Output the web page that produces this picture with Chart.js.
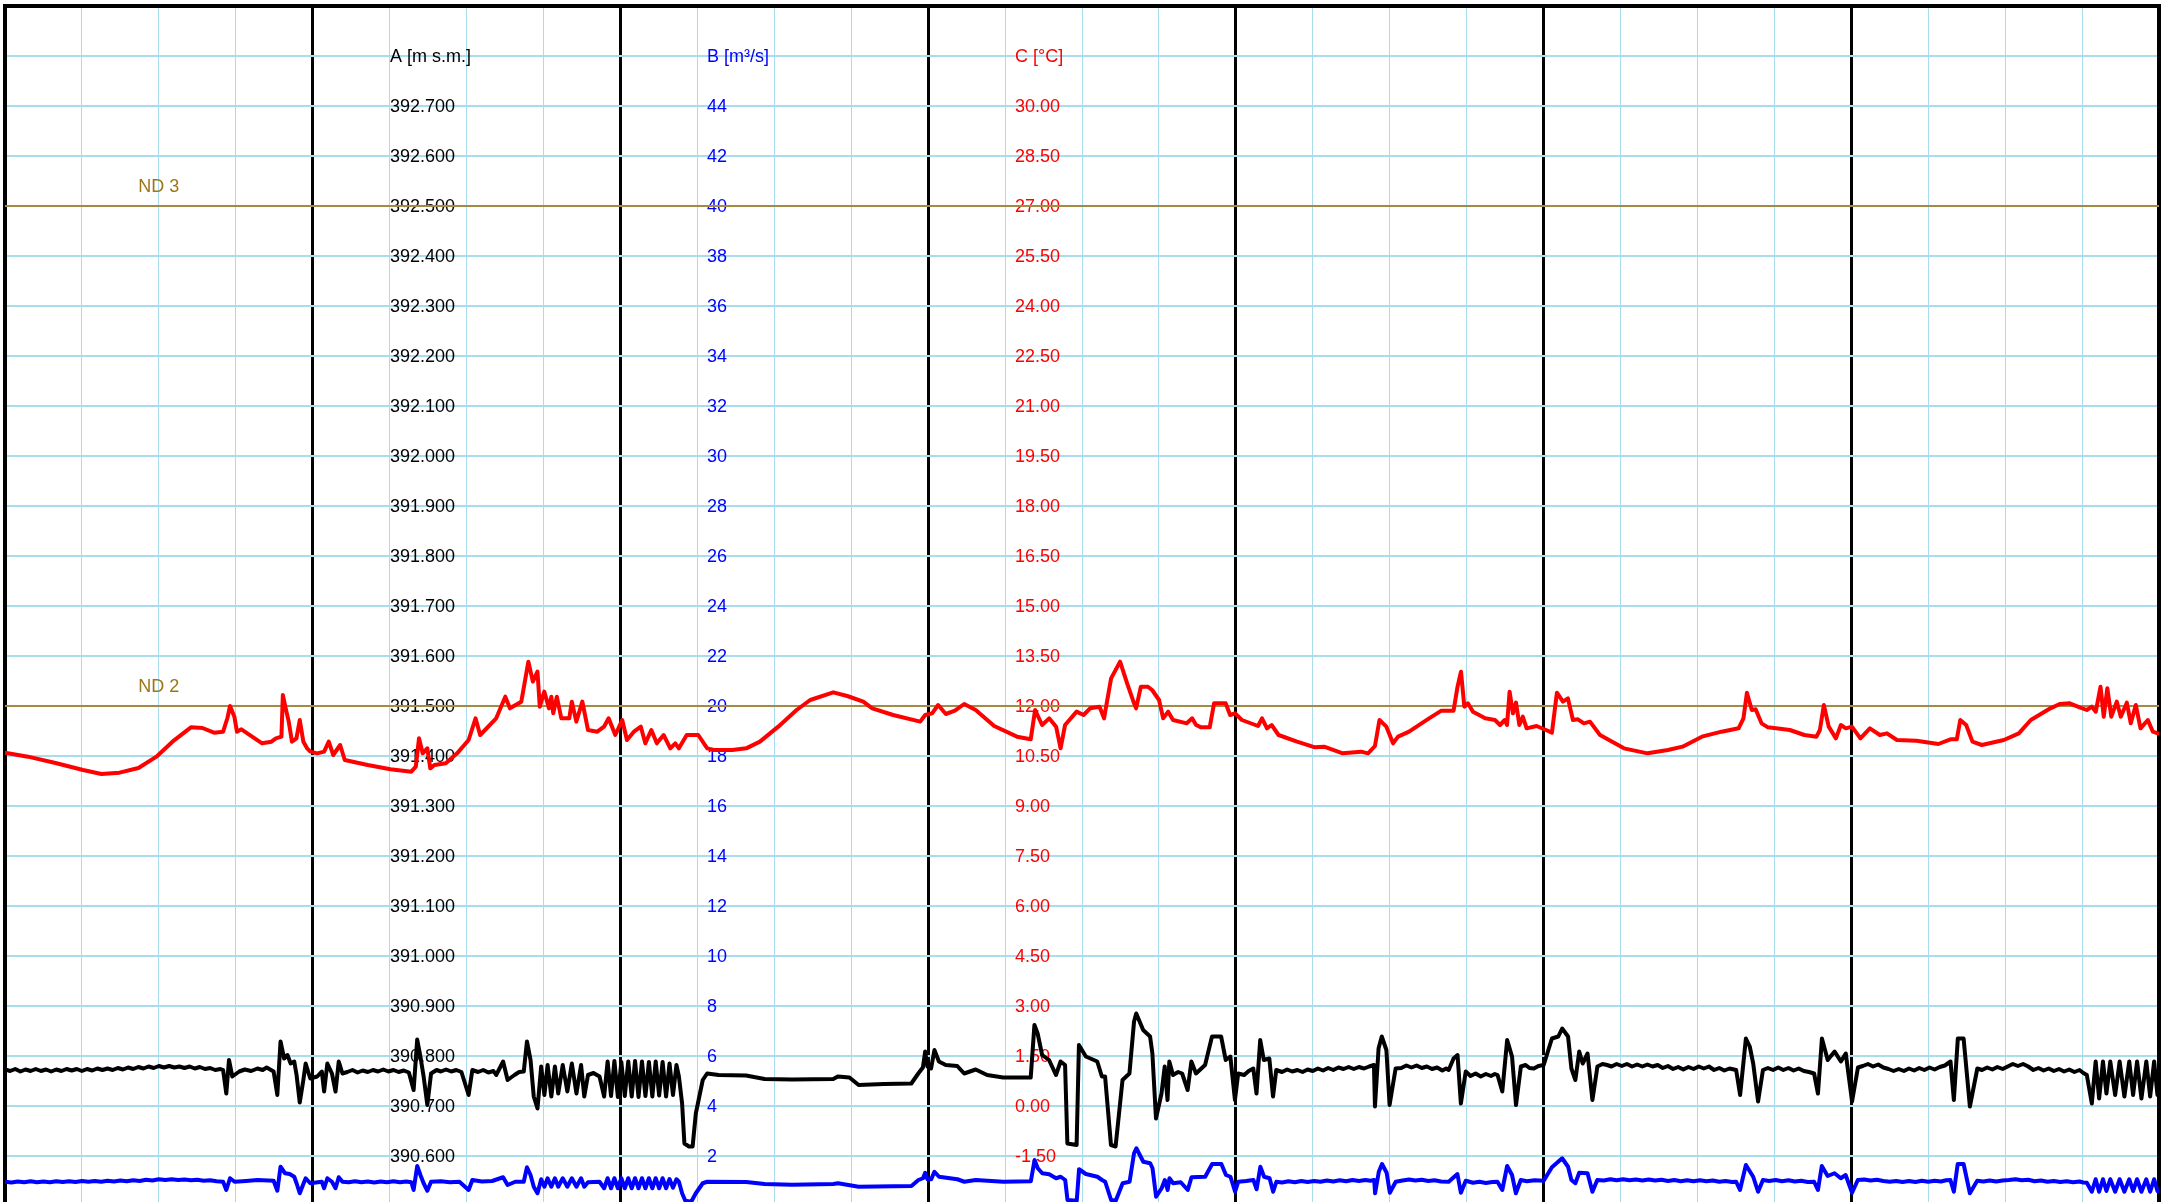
<!DOCTYPE html>
<html>
<head>
<meta charset="utf-8">
<title>A / B / C</title>
<script src="https://cdn.jsdelivr.net/npm/chart.js@4.4.1/dist/chart.umd.min.js"></script>
<style>
  html, body { margin: 0; padding: 0; background: #ffffff; overflow: hidden; }
  canvas { display: block; }
</style>
</head>
<body>
<canvas id="chart" width="2164" height="1212"></canvas>
<script>
// ---- Axis titles and tick labels (top row to bottom row) ----
const axisTitles = ['A [m s.m.]', 'B [m\u00B3/s]', 'C [\u00B0C]'];
const levelTicks = ['392.700','392.600','392.500','392.400','392.300','392.200','392.100','392.000',
  '391.900','391.800','391.700','391.600','391.500','391.400','391.300','391.200','391.100','391.000',
  '390.900','390.800','390.700','390.600'];
const flowTicks = ['44','42','40','38','36','34','32','30','28','26','24','22','20','18','16','14',
  '12','10','8','6','4','2'];
const tempTicks = ['30.00','28.50','27.00','25.50','24.00','22.50','21.00','19.50','18.00','16.50',
  '15.00','13.50','12.00','10.50','9.00','7.50','6.00','4.50','3.00','1.50','0.00','-1.50'];

// ---- Axis ranges [min, max, step] ----
const hourRange = [0, 168, 6];
const levelRange = [390.5, 392.9, 0.1];
const flowRange = [0, 48, 2];
const tempRange = [-3, 33, 1.5];

// ---- Reference levels ----
const ndNames = ['ND 3', 'ND 2'];
const ndLevels = [392.5, 391.5];
const ndLabelHour = 12;

// ---- C: temperature [°C] ----
const tempHours = [0,1.79,3.94,6.09,7.52,8.93,10.41,11.81,13.06,14.5,15.4,16.3,17.01,17.35,17.55,17.89,18.09,18.44,
  20.05,20.78,21.13,21.56,21.67,21.92,22.13,22.38,22.73,22.99,23.27,23.56,23.82,24.35,24.89,25.25,25.6,26.14,26.5,
  28.29,30.06,31.69,32.04,32.29,32.58,32.94,33.17,33.49,34.38,35.26,36.16,36.7,37.06,38.31,39.02,39.38,40.27,40.82,
  41.17,41.53,41.71,42.06,42.43,42.61,42.76,43.04,43.39,44.01,44.21,44.56,45.03,45.47,46.2,46.72,47.08,47.6,48.14,
  48.51,49.05,49.59,49.94,50.41,50.84,51.37,51.89,52.28,52.56,53.17,54.07,54.77,55.3,56.72,57.81,58.88,60.31,61.74,
  62.8,64.6,65.69,66.94,67.64,69.27,71.38,71.77,72.31,72.78,73.38,74.09,74.81,75.71,77.15,78.93,80.0,80.34,80.89,
  81.44,81.98,82.33,82.68,83.58,84.12,84.63,85.37,85.72,86.27,86.97,87.52,88.06,88.22,88.59,89.12,89.47,90.01,90.33,
  90.72,91.1,92.17,92.59,92.9,93.29,93.96,94.3,95.21,95.55,95.94,96.47,97.73,98.04,98.43,98.79,99.33,100.77,102.17,
  102.88,104.34,105.76,106.31,106.85,107.2,107.74,108.26,108.65,109.51,110.36,111.07,112.03,112.98,113.29,113.56,
  113.82,114.1,114.49,115.45,116.21,116.6,116.97,117.15,117.35,117.61,117.85,118.11,118.38,118.68,119.45,120.19,
  120.65,121.04,121.51,121.9,122.29,122.68,123.15,123.62,124.4,126.27,128.11,129.7,130.84,132.35,133.88,135.21,
  135.59,135.86,136.24,136.54,137.0,137.5,139.21,140.34,141.29,141.55,141.86,142.24,142.8,143.19,143.58,144.05,
  144.71,145.45,146.23,146.78,147.56,149.08,150.79,151.74,152.23,152.5,152.96,153.45,154.18,155.9,157.07,158.0,
  159.53,160.26,161.04,161.81,162.37,162.76,163.07,163.44,163.69,163.97,164.28,164.71,165.02,165.49,165.8,166.19,
  166.56,167.13,167.52,167.91];
const tempValues = [10.6,10.48,10.29,10.08,9.96,10.0,10.14,10.48,10.93,11.36,11.34,11.2,11.23,11.64,12.0,11.68,11.23,11.3,
  10.88,10.93,11.03,11.08,12.33,11.88,11.53,10.93,11.03,11.58,10.93,10.73,10.63,10.58,10.63,10.93,10.53,10.83,10.38,
  10.23,10.1,10.03,10.18,11.03,10.58,10.73,10.13,10.23,10.28,10.58,10.98,11.63,11.13,11.63,12.28,11.93,12.13,13.33,
  12.73,13.03,11.98,12.43,11.93,12.28,11.78,12.28,11.63,11.63,12.13,11.53,12.13,11.28,11.23,11.38,11.63,11.13,11.58,
  10.98,11.23,11.38,10.88,11.28,10.88,11.13,10.73,10.88,10.73,11.13,11.13,10.73,10.68,10.68,10.73,10.93,11.38,11.88,
  12.18,12.41,12.3,12.13,11.93,11.73,11.53,11.73,11.78,12.03,11.76,11.86,12.06,11.88,11.4,11.08,11.0,11.88,11.43,
  11.63,11.38,10.73,11.43,11.83,11.73,11.93,11.98,11.63,12.83,13.33,12.68,12.08,11.93,12.58,12.58,12.48,12.18,11.63,
  11.83,11.58,11.48,11.63,11.43,11.36,11.36,12.08,12.08,11.73,11.78,11.58,11.4,11.63,11.33,11.43,11.13,10.93,10.76,
  10.78,10.58,10.63,10.58,10.8,11.58,11.38,10.88,11.08,11.23,11.45,11.63,11.86,11.86,12.58,13.03,
  11.98,12.08,11.83,11.63,11.58,11.43,11.58,11.43,12.43,11.78,12.1,11.43,11.68,11.33,11.4,11.28,
  11.2,12.4,12.13,12.23,11.58,11.6,11.48,11.53,11.13,10.73,10.58,10.68,10.78,11.08,11.23,11.33,
  11.63,12.4,11.88,11.9,11.48,11.36,11.28,11.13,11.08,11.28,12.03,11.38,11.03,11.43,11.33,11.38,
  11.03,11.33,11.13,11.18,10.98,10.96,10.86,11.0,11.0,11.58,11.43,10.93,10.83,10.98,11.18,11.58,
  11.93,12.06,12.08,11.96,11.88,11.98,11.83,12.58,11.68,12.53,11.68,12.13,11.68,12.1,11.48,12.03,
  11.33,11.58,11.23,11.18];

// ---- A: water level [m s.m.], pairs of [hour, level] ----
const levelSeries = [
  [0,390.773],[0.4,390.770],[0.8,390.774],[1.2,390.769],[1.6,390.773],[2.0,390.770],[2.4,390.774],[2.8,390.770],
  [3.2,390.773],[3.6,390.769],[4.0,390.773],[4.4,390.770],[4.8,390.774],[5.2,390.771],[5.6,390.774],[6.0,390.770],
  [6.4,390.774],[6.8,390.771],[7.2,390.775],[7.6,390.772],[8.0,390.775],[8.4,390.772],[8.8,390.776],[9.2,390.773],
  [9.6,390.777],[10.0,390.774],[10.4,390.778],[10.8,390.775],[11.2,390.779],[11.6,390.776],[12.0,390.780],[12.4,390.777],
  [12.8,390.780],[13.2,390.777],[13.6,390.779],[14.0,390.776],[14.4,390.779],[14.8,390.775],[15.2,390.778],[15.6,390.774],
  [16.0,390.776],[16.4,390.772],[16.8,390.774],[17.01,390.772],
  [17.26,390.725],[17.47,390.792],[17.73,390.759],[18.27,390.769],[18.7,390.773],[19.2,390.770],[19.69,390.775],
  [20.1,390.772],[20.41,390.777],[20.95,390.769],[21.24,390.722],[21.49,390.829],[21.77,390.795],[22.03,390.802],
  [22.28,390.785],[22.56,390.789],[22.74,390.762],[22.99,390.707],[23.27,390.752],[23.45,390.785],[23.81,390.755],
  [24.35,390.759],[24.71,390.769],[24.89,390.729],[25.14,390.785],[25.5,390.765],[25.78,390.729],[26.03,390.789],
  [26.32,390.765],[26.7,390.768],[27.1,390.772],[27.5,390.767],[27.9,390.771],[28.3,390.768],[28.7,390.772],
  [29.1,390.769],[29.5,390.773],[29.9,390.769],[30.3,390.772],[30.7,390.768],[31.1,390.771],[31.5,390.767],
  [31.87,390.732],[32.15,390.833],[32.4,390.799],[32.65,390.759],[32.94,390.702],[33.23,390.765],[33.66,390.772],
  [34.0,390.769],[34.4,390.773],[34.8,390.769],[35.2,390.772],[35.6,390.768],[36.16,390.722],[36.45,390.772],
  [36.9,390.768],[37.3,390.772],[37.7,390.767],[38.1,390.770],[38.31,390.762],[38.85,390.789],[39.2,390.752],
  [39.74,390.762],[40.1,390.768],[40.46,390.769],[40.71,390.829],[40.99,390.792],[41.24,390.719],[41.53,390.695],
  [41.82,390.779],[42.07,390.722],[42.32,390.782],[42.61,390.719],[42.89,390.779],[43.15,390.725],[43.5,390.782],
  [43.86,390.729],[44.21,390.785],[44.57,390.725],[44.93,390.782],[45.18,390.719],[45.47,390.762],[45.9,390.766],
  [46.37,390.759],[46.73,390.719],[47.0,390.789],[47.27,390.720],[47.53,390.790],[47.8,390.718],[48.07,390.788],
  [48.34,390.720],[48.61,390.789],[48.88,390.719],[49.14,390.790],[49.41,390.718],[49.68,390.789],[49.95,390.720],
  [50.22,390.788],[50.49,390.719],[50.75,390.789],[51.02,390.721],[51.29,390.788],[51.56,390.719],[51.83,390.785],
  [52.1,390.722],[52.37,390.782],[52.56,390.759],[52.81,390.705],[52.99,390.625],[53.35,390.619],[53.63,390.619],
  [53.88,390.685],[54.42,390.752],[54.76,390.765],[55.66,390.762],[57.8,390.761],[59.24,390.754],[61.38,390.753],
  [64.6,390.754],[64.96,390.759],[65.86,390.757],[66.58,390.742],[68.55,390.744],[70.69,390.745],[71.23,390.765],
  [71.59,390.777],[71.77,390.809],[71.94,390.779],[72.23,390.775],[72.49,390.812],[72.84,390.789],[73.37,390.782],
  [74.27,390.780],[74.81,390.765],[75.71,390.773],[76.6,390.762],[77.85,390.757],[80.0,390.757],[80.29,390.862],
  [80.54,390.845],[80.89,390.802],[81.43,390.792],[81.97,390.762],[82.33,390.789],[82.68,390.782],[82.86,390.625],
  [83.58,390.622],[83.76,390.822],[84.3,390.799],[85.19,390.789],[85.55,390.759],[85.8,390.759],[86.26,390.622],
  [86.62,390.619],[87.16,390.752],[87.7,390.765],[88.06,390.869],[88.23,390.885],[88.77,390.852],[89.31,390.839],
  [89.49,390.805],[89.77,390.675],[90.2,390.725],[90.45,390.779],[90.67,390.712],[90.81,390.789],[91.1,390.762],
  [91.5,390.768],[91.81,390.765],[92.24,390.732],[92.53,390.789],[92.89,390.765],[93.6,390.782],[94.14,390.839],
  [94.85,390.839],[95.21,390.792],[95.57,390.799],[95.93,390.712],[96.18,390.765],[96.65,390.762],[97.0,390.770],
  [97.36,390.775],[97.61,390.725],[97.9,390.832],[98.18,390.792],[98.61,390.795],[98.9,390.719],[99.15,390.772],
  [99.6,390.768],[100.0,390.773],[100.4,390.769],[100.8,390.772],[101.2,390.768],[101.6,390.773],[102.0,390.770],
  [102.4,390.775],[102.8,390.771],[103.2,390.776],[103.6,390.772],[104.0,390.777],[104.4,390.774],[104.8,390.778],
  [105.2,390.774],[105.6,390.778],[106.0,390.775],[106.4,390.779],[106.77,390.782],[106.85,390.699],[107.13,390.815],
  [107.38,390.839],[107.74,390.812],[107.99,390.702],[108.46,390.775],[108.9,390.776],[109.3,390.781],[109.7,390.777],
  [110.1,390.781],[110.5,390.776],[110.9,390.779],[111.3,390.774],[111.7,390.777],[112.1,390.771],[112.4,390.775],
  [112.6,390.772],[112.98,390.795],[113.29,390.802],[113.55,390.705],[113.93,390.769],[114.3,390.760],[114.7,390.765],
  [115.1,390.759],[115.5,390.764],[115.9,390.760],[116.2,390.764],[116.41,390.762],[116.78,390.729],[117.16,390.832],
  [117.54,390.799],[117.85,390.702],[118.23,390.779],[118.6,390.782],[118.9,390.776],[119.25,390.775],[119.6,390.780],
  [120.01,390.782],[120.65,390.835],[121.15,390.839],[121.45,390.855],[121.91,390.839],[122.17,390.775],[122.48,390.752],
  [122.78,390.809],[123.05,390.785],[123.43,390.805],[123.81,390.712],[124.2,390.779],[124.6,390.784],[124.95,390.782],
  [125.3,390.779],[125.7,390.784],[126.1,390.780],[126.5,390.784],[126.9,390.779],[127.3,390.783],[127.7,390.779],
  [128.1,390.783],[128.5,390.779],[128.9,390.782],[129.3,390.776],[129.7,390.780],[130.1,390.774],[130.5,390.778],
  [130.9,390.773],[131.3,390.778],[131.7,390.774],[132.1,390.779],[132.5,390.775],[132.9,390.779],[133.3,390.772],
  [133.7,390.776],[134.1,390.771],[134.5,390.775],[135.02,390.772],[135.33,390.722],[135.78,390.835],[136.08,390.819],
  [136.35,390.785],[136.73,390.709],[137.11,390.772],[137.5,390.776],[137.9,390.772],[138.3,390.777],[138.7,390.772],
  [139.1,390.776],[139.5,390.771],[139.9,390.775],[140.3,390.770],[140.7,390.768],[141.1,390.765],[141.4,390.725],
  [141.71,390.835],[142.16,390.792],[142.7,390.809],[143.19,390.789],[143.57,390.805],[144.06,390.709],[144.52,390.777],
  [144.9,390.780],[145.3,390.784],[145.7,390.779],[146.1,390.783],[146.5,390.777],[146.9,390.774],[147.3,390.770],
  [147.7,390.774],[148.1,390.770],[148.5,390.775],[148.9,390.771],[149.3,390.776],[149.7,390.772],[150.1,390.777],
  [150.5,390.773],[150.9,390.778],[151.3,390.781],[151.74,390.789],[152.0,390.712],[152.31,390.835],[152.76,390.835],
  [153.25,390.699],[153.83,390.775],[154.2,390.772],[154.6,390.777],[155.0,390.773],[155.4,390.778],[155.8,390.774],
  [156.2,390.779],[156.6,390.784],[157.0,390.780],[157.4,390.784],[157.8,390.779],[158.2,390.772],[158.6,390.776],
  [159.0,390.771],[159.4,390.775],[159.8,390.770],[160.2,390.774],[160.6,390.769],[161.0,390.773],[161.4,390.768],
  [161.8,390.772],[162.1,390.766],[162.37,390.762],[162.76,390.705],[163.06,390.789],[163.33,390.715],[163.63,390.789],
  [163.9,390.725],[164.2,390.789],[164.58,390.722],[164.93,390.789],[165.3,390.719],[165.68,390.789],[165.98,390.722],
  [166.29,390.789],[166.63,390.715],[167.01,390.789],[167.31,390.719],[167.62,390.789],[167.88,390.722]
];

// ---- B: discharge [m³/s], pairs of [hour, discharge] ----
const flowSeries = [
  [0,0.97],[0.5,0.94],[1.0,0.98],[1.5,0.95],[2.0,0.99],[2.5,0.95],[3.0,0.98],[3.5,0.95],[4.0,0.99],[4.5,0.96],
  [5.0,0.99],[5.5,0.96],[6.0,1.0],[6.5,0.97],[7.0,1.0],[7.5,0.97],[8.0,1.01],[8.5,0.98],[9.0,1.02],[9.5,0.99],
  [10.0,1.03],[10.5,1.0],[11.0,1.05],[11.5,1.02],[12.0,1.07],[12.5,1.04],[13.0,1.07],[13.5,1.04],[14.0,1.06],
  [14.5,1.03],[15.0,1.05],[15.5,1.01],[16.0,1.03],[16.5,0.99],[17.01,0.97],
  [17.26,0.64],[17.55,1.11],[17.91,0.97],[18.8,1.0],[19.69,1.04],[20.95,1.01],[21.24,0.61],[21.49,1.57],[21.84,1.31],
  [22.2,1.28],[22.56,1.17],[22.74,0.91],[22.99,0.51],[23.27,0.88],[23.45,1.11],[23.81,0.91],[24.71,0.97],[24.89,0.71],
  [25.14,1.11],[25.5,0.97],[25.78,0.71],[26.03,1.15],[26.32,0.97],[26.8,0.95],[27.3,0.99],[27.8,0.95],[28.3,0.98],
  [28.8,0.94],[29.3,0.98],[29.8,0.95],[30.3,0.99],[30.8,0.95],[31.3,0.98],[31.69,0.95],[31.87,0.64],[32.15,1.6],
  [32.4,1.24],[32.65,0.91],[32.94,0.61],[33.23,0.97],[34.0,0.99],[34.7,0.95],[35.44,0.97],[36.16,0.64],[36.45,1.04],
  [37.2,0.98],[38.0,1.0],[38.85,1.15],[39.2,0.84],[39.8,0.97],[40.46,0.97],[40.71,1.55],[40.99,1.24],[41.24,0.77],
  [41.53,0.51],[41.82,1.07],[42.07,0.77],[42.32,1.11],[42.61,0.77],[42.89,1.11],[43.15,0.77],[43.5,1.11],[43.86,0.77],
  [44.21,1.11],[44.57,0.77],[44.93,1.11],[45.18,0.77],[45.47,0.95],[46.37,0.97],[46.73,0.71],[47.0,1.11],[47.27,0.71],
  [47.53,1.11],[47.8,0.71],[48.07,1.11],[48.34,0.71],[48.61,1.11],[48.88,0.71],[49.14,1.11],[49.41,0.71],[49.68,1.11],
  [49.95,0.71],[50.22,1.11],[50.49,0.71],[50.75,1.11],[51.02,0.71],[51.29,1.11],[51.56,0.71],[51.83,1.08],[52.1,0.73],
  [52.37,1.07],[52.56,0.97],[52.81,0.51],[53.06,0.21],[53.52,0.17],[53.88,0.51],[54.42,0.91],[54.77,0.97],[57.81,0.96],
  [59.24,0.88],[61.39,0.85],[64.61,0.88],[64.97,0.91],[66.58,0.77],[70.7,0.8],[71.24,1.04],[71.6,1.11],[71.77,1.33],
  [71.95,1.07],[72.24,1.07],[72.49,1.37],[72.85,1.17],[74.28,1.07],[74.82,0.97],[75.71,1.04],[77.86,0.97],[80.01,0.99],
  [80.3,1.84],[80.55,1.51],[80.9,1.31],[81.44,1.27],[81.98,1.11],[82.34,1.17],[82.69,1.04],[82.87,0.24],[83.59,0.21],
  [83.77,1.47],[84.3,1.28],[85.2,1.17],[85.56,1.04],[85.81,0.97],[86.27,0.24],[86.63,0.21],[87.17,0.91],[87.71,0.97],
  [88.06,2.11],[88.24,2.31],[88.78,1.77],[89.32,1.71],[89.5,1.51],[89.78,0.37],[90.21,0.71],[90.46,1.04],[90.68,0.64],
  [90.82,1.11],[91.11,0.91],[91.7,0.95],[92.25,0.64],[92.54,1.15],[93.61,1.17],[94.15,1.68],[94.87,1.68],[95.23,1.24],
  [95.58,1.17],[95.94,0.57],[96.19,0.97],[96.8,1.0],[97.37,1.04],[97.62,0.67],[97.91,1.57],[98.2,1.17],[98.63,1.11],
  [98.91,0.57],[99.16,0.97],[99.6,0.94],[100.1,0.99],[100.6,0.95],[101.1,1.0],[101.6,0.96],[102.1,1.0],[102.6,0.97],
  [103.1,1.02],[103.6,0.98],[104.1,1.03],[104.6,0.99],[105.1,1.04],[105.6,1.0],[106.1,1.04],[106.5,1.01],[106.79,1.04],
  [106.86,0.51],[107.15,1.37],[107.4,1.68],[107.76,1.33],[108.01,0.53],[108.47,0.97],[109.0,1.02],[109.5,1.06],
  [110.0,1.02],[110.5,1.05],[111.0,1.0],[111.5,1.03],[112.0,0.98],[112.6,0.97],[113.28,1.28],[113.55,0.53],[113.93,1.01],
  [114.5,0.93],[115.0,0.97],[115.5,0.92],[116.0,0.96],[116.4,0.97],[116.78,0.64],[117.16,1.6],[117.54,1.24],[117.84,0.51],
  [118.22,1.04],[118.7,0.99],[119.3,1.03],[120.01,1.01],[120.65,1.55],[121.45,1.91],[121.91,1.57],[122.17,1.04],
  [122.48,0.91],[122.78,1.33],[123.43,1.31],[123.81,0.57],[124.19,1.04],[124.7,1.02],[125.2,1.07],[125.7,1.03],
  [126.2,1.07],[126.7,1.03],[127.2,1.06],[127.7,1.02],[128.2,1.06],[128.7,1.02],[129.2,1.05],[129.7,1.0],[130.2,1.04],
  [130.7,0.99],[131.2,1.03],[131.7,0.99],[132.2,1.03],[132.7,0.99],[133.2,1.02],[133.7,0.97],[134.2,1.0],[134.7,0.96],
  [135.02,0.97],[135.32,0.64],[135.78,1.64],[136.35,1.17],[136.73,0.57],[137.11,1.04],[137.6,1.0],[138.1,1.04],
  [138.6,0.99],[139.1,1.03],[139.6,0.98],[140.1,1.01],[140.6,0.96],[141.1,0.97],[141.4,0.64],[141.7,1.6],[142.16,1.2],
  [142.69,1.31],[143.18,1.11],[143.56,1.24],[144.06,0.53],[144.51,1.04],[145.0,1.06],[145.5,1.02],[146.0,1.05],
  [146.5,1.0],[147.0,0.97],[147.5,1.0],[148.0,0.96],[148.5,1.0],[149.0,0.96],[149.5,1.01],[150.0,0.97],[150.5,1.01],
  [151.0,0.98],[151.4,1.03],[151.73,1.04],[152.0,0.57],[152.3,1.68],[152.76,1.68],[153.25,0.51],[153.82,1.01],
  [154.3,0.98],[154.8,1.02],[155.3,0.98],[155.8,1.02],[156.3,1.04],[156.8,1.07],[157.3,1.03],[157.8,1.05],[158.3,0.99],
  [158.8,1.02],[159.3,0.97],[159.8,1.0],[160.3,0.96],[160.8,0.99],[161.3,0.95],[161.8,0.98],[162.1,0.94],[162.37,0.93],
  [162.76,0.57],[163.06,1.07],[163.33,0.57],[163.63,1.07],[163.9,0.6],[164.2,1.07],[164.58,0.57],[164.93,1.07],
  [165.3,0.57],[165.68,1.07],[165.98,0.6],[166.29,1.07],[166.63,0.57],[167.01,1.07],[167.31,0.57],[167.62,1.07],
  [167.88,0.6]
];

// ---- Styling ----
const FONT = "'Liberation Sans', Arial, Helvetica, sans-serif";
const GRID_BLUE = '#a9dcec';
const ND_LINE = '#a38b46';
const ND_TEXT = '#9e7516';

const toPoints = (xs, ys) => xs.map((h, i) => ({ x: h, y: ys[i] }));
const pairsToPoints = pairs => pairs.map(p => ({ x: p[0], y: p[1] }));

// Row labels: the top row stays empty, the second row carries the axis title
function rowLabel(title, labels) {
  return function (value, index, ticks) {
    const row = ticks.length - 1 - index;
    if (row === 1) return title;
    if (row >= 2 && row - 2 < labels.length) return labels[row - 2];
    return null;
  };
}

// The value axes take no room of their own: their labels sit inside the plot
function collapseAxis(scale) {
  scale.width = 0;
  scale.paddingTop = 0;
  scale.paddingBottom = 0;
  scale.paddingLeft = 0;
  scale.paddingRight = 0;
}

function valueAxis(range, padding, color, title, labels, withGrid) {
  return {
    type: 'linear',
    position: 'left',
    min: range[0],
    max: range[1],
    afterFit: collapseAxis,
    border: { display: false },
    ticks: {
      stepSize: range[2],
      autoSkip: false,
      mirror: true,
      padding: padding,
      labelOffset: 1,
      color: color,
      font: { family: FONT, size: 18 },
      callback: rowLabel(title, labels)
    },
    grid: withGrid ? {
      drawTicks: false,
      color: GRID_BLUE,
      lineWidth: 2
    } : { display: false, drawTicks: false }
  };
}

// Heavy frame along the top and both sides of the plot
const framePlugin = {
  id: 'frame',
  beforeDatasetsDraw(chart) {
    const { ctx, chartArea: a } = chart;
    ctx.save();
    ctx.strokeStyle = '#000000';
    ctx.lineWidth = 4;
    ctx.lineJoin = 'miter';
    ctx.beginPath();
    ctx.moveTo(a.left, a.bottom + 10);
    ctx.lineTo(a.left, a.top);
    ctx.lineTo(a.right, a.top);
    ctx.lineTo(a.right, a.bottom + 10);
    ctx.stroke();
    ctx.restore();
  }
};

const ndLabelPlugin = {
  id: 'ndLabels',
  afterDatasetsDraw(chart) {
    const { ctx, scales } = chart;
    ctx.save();
    ctx.font = '18px ' + FONT;
    ctx.fillStyle = ND_TEXT;
    ctx.textAlign = 'center';
    ctx.textBaseline = 'middle';
    ndLevels.forEach((lv, i) => {
      ctx.fillText(ndNames[i], scales.x.getPixelForValue(ndLabelHour), scales.yA.getPixelForValue(lv) - 19);
    });
    ctx.restore();
  }
};

const lineStyle = { pointRadius: 0, borderJoinStyle: 'round', borderCapStyle: 'round', tension: 0, fill: false };

new Chart(document.getElementById('chart'), {
  type: 'line',
  data: {
    datasets: [
      Object.assign({ label: 'C', data: toPoints(tempHours, tempValues), borderColor: '#ff0000', borderWidth: 4, yAxisID: 'yC' }, lineStyle),
      Object.assign({ label: 'A', data: pairsToPoints(levelSeries), borderColor: '#000000', borderWidth: 4, yAxisID: 'yA' }, lineStyle),
      Object.assign({ label: 'B', data: pairsToPoints(flowSeries), borderColor: '#0000ff', borderWidth: 4, yAxisID: 'yB' }, lineStyle),
      ...ndLevels.map((lv, i) => Object.assign({
        label: ndNames[i],
        data: [{ x: hourRange[0], y: lv }, { x: hourRange[1], y: lv }],
        borderColor: ND_LINE, borderWidth: 2, yAxisID: 'yA'
      }, lineStyle))
    ]
  },
  options: {
    responsive: false,
    animation: false,
    events: [],
    layout: { padding: { left: 5, top: 6, right: 5, bottom: 6 } },
    plugins: { legend: { display: false }, tooltip: { enabled: false } },
    scales: {
      x: {
        type: 'linear',
        position: 'bottom',
        min: hourRange[0],
        max: hourRange[1],
        border: { display: false },
        ticks: { display: false, stepSize: hourRange[2], autoSkip: false },
        grid: {
          drawTicks: false,
          color: ctx => ctx.tick.value % 24 === 0 ? '#000000' : GRID_BLUE,
          lineWidth: ctx => ctx.tick.value % 24 === 0 ? 3 : 1
        }
      },
      yA: valueAxis(levelRange, 385, '#000000', axisTitles[0], levelTicks, true),
      yB: valueAxis(flowRange, 702, '#0000ff', axisTitles[1], flowTicks, false),
      yC: valueAxis(tempRange, 1010, '#ff0000', axisTitles[2], tempTicks, false)
    }
  },
  plugins: [framePlugin, ndLabelPlugin]
});
</script>
</body>
</html>
